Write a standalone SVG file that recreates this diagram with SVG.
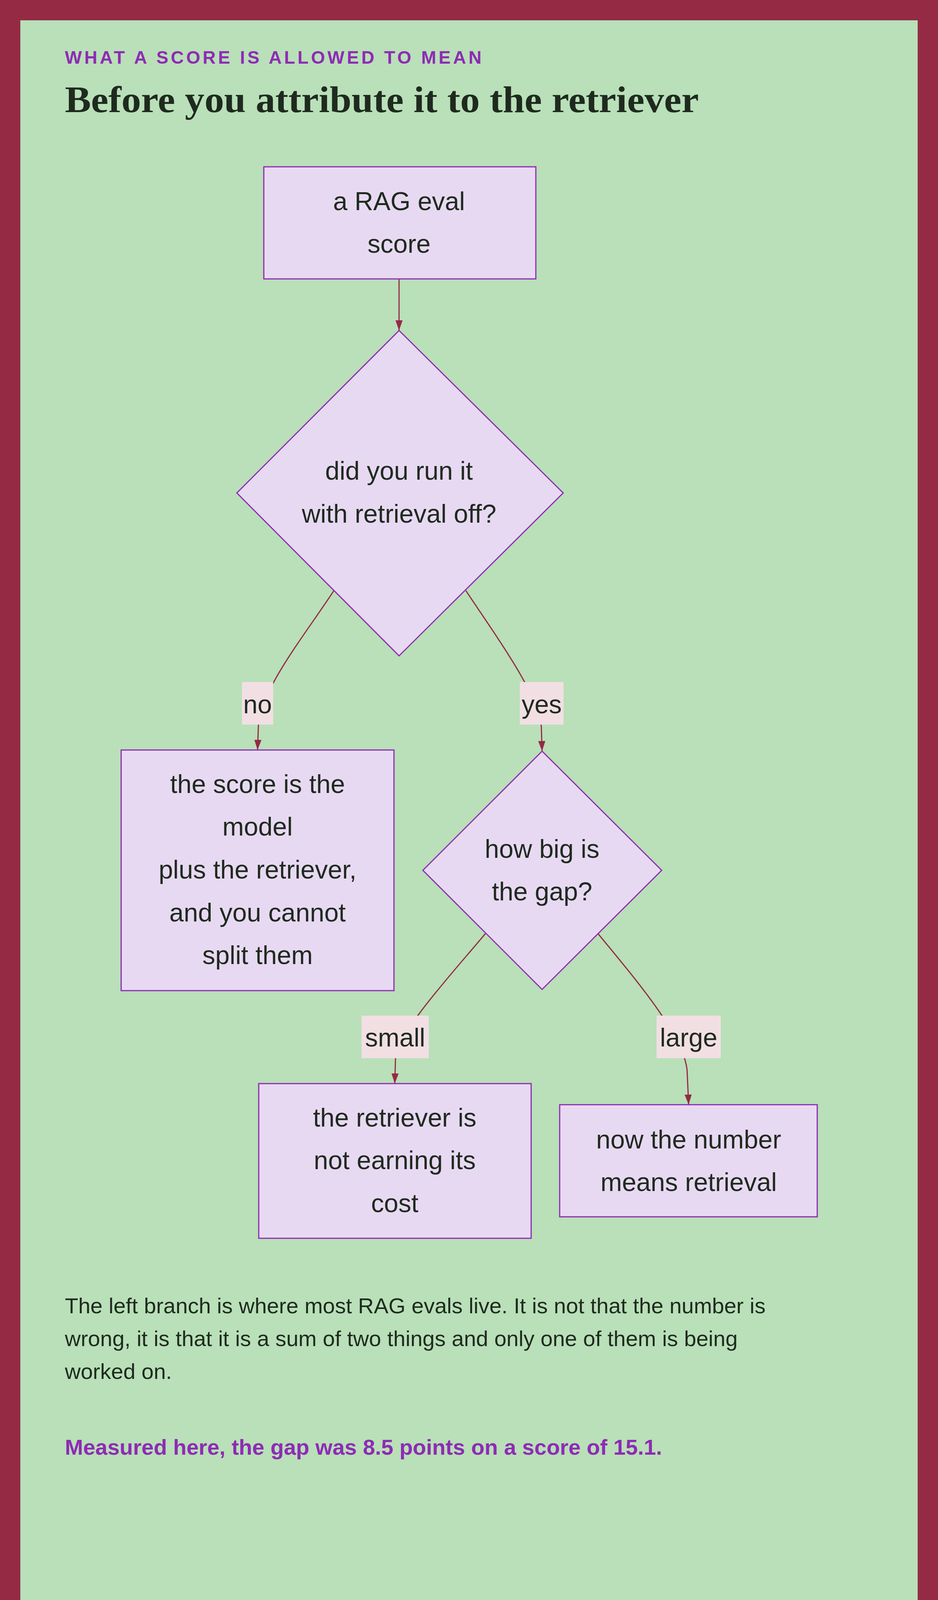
<svg xmlns="http://www.w3.org/2000/svg" width="2400" height="4280" viewBox="0 0 2400 4280">
<style>
.node{fill:#e8d9f2;stroke:#8e2bb5;stroke-width:3}
.nt{font-family:"Liberation Sans",Arial,sans-serif;font-size:66px;fill:#1f2a1f;text-anchor:middle}
.edge{fill:none;stroke:#952a45;stroke-width:3}
.lbg{fill:#f2dfe4}
.body{font-family:"Liberation Sans",Arial,sans-serif;font-size:56px;fill:#1f2a1f}
.accent{font-family:"Liberation Sans",Arial,sans-serif;font-size:56px;font-weight:bold;fill:#8e2bb5}
</style>
<defs>
<marker id="arrow" viewBox="0 0 20 20" refX="20" refY="10" markerWidth="26" markerHeight="26" markerUnits="userSpaceOnUse" orient="auto"><path d="M0,3 L20,10 L0,17 Z" fill="#952a45"/></marker>
</defs>
<rect x="0" y="0" width="2400" height="4280" fill="#952a45"/>
<rect x="52" y="52" width="2296" height="4176" fill="#b9e0b8"/>
<text x="166" y="163" font-family="Liberation Sans,Arial,sans-serif" font-weight="bold" font-size="46" letter-spacing="5" fill="#8e2bb5" textLength="1071">WHAT A SCORE IS ALLOWED TO MEAN</text>
<text x="166" y="287" font-family="Liberation Serif,Times New Roman,serif" font-weight="bold" font-size="96" fill="#1f2a1f" textLength="1622" lengthAdjust="spacingAndGlyphs">Before you attribute it to the retriever</text>

<g id="connectors">
<path class="edge" marker-end="url(#arrow)" d="M1021,714 L1021,846"/>
<path class="edge" marker-end="url(#arrow)" d="M855,1511 C770,1640 670,1760 661,1860 L659,1920"/>
<path class="edge" marker-end="url(#arrow)" d="M1192,1512 C1270,1630 1380,1780 1385,1860 L1387,1923"/>
<path class="edge" marker-end="url(#arrow)" d="M1242,2390 C1150,2500 1020,2640 1012,2709 L1010,2774"/>
<path class="edge" marker-end="url(#arrow)" d="M1530,2390 C1620,2500 1750,2650 1758,2740 L1762,2828"/>
<rect class="lbg" x="619" y="1746" width="80" height="109"/>
<text class="nt" x="659" y="1826">no</text>
<rect class="lbg" x="1330" y="1746" width="112" height="109"/>
<text class="nt" x="1386" y="1826">yes</text>
<rect class="lbg" x="925" y="2600" width="172" height="109"/>
<text class="nt" x="1011" y="2679">small</text>
<rect class="lbg" x="1680" y="2600" width="164" height="109"/>
<text class="nt" x="1762" y="2679">large</text>
</g>

<g id="n1"><rect class="node" x="675" y="427" width="696" height="287"/>
<text class="nt" x="1021" y="538">a RAG eval</text><text class="nt" x="1021" y="647">score</text></g>
<g id="n2"><polygon class="node" points="1021,846 1441,1262 1021,1679 606,1262"/>
<text class="nt" x="1021" y="1228">did you run it</text><text class="nt" x="1021" y="1338">with retrieval off?</text></g>
<g id="n3"><rect class="node" x="310" y="1920" width="698" height="616"/>
<text class="nt" x="659" y="2030">the score is the</text><text class="nt" x="659" y="2139">model</text><text class="nt" x="659" y="2249">plus the retriever,</text><text class="nt" x="659" y="2359">and you cannot</text><text class="nt" x="659" y="2468">split them</text></g>
<g id="n4"><polygon class="node" points="1387,1923 1693,2228 1387,2533 1082,2228"/>
<text class="nt" x="1387" y="2196">how big is</text><text class="nt" x="1387" y="2305">the gap?</text></g>
<g id="n5"><rect class="node" x="662" y="2774" width="697" height="396"/>
<text class="nt" x="1010" y="2884">the retriever is</text><text class="nt" x="1010" y="2993">not earning its</text><text class="nt" x="1010" y="3103">cost</text></g>
<g id="n6"><rect class="node" x="1432" y="2828" width="659" height="287"/>
<text class="nt" x="1762" y="2940">now the number</text><text class="nt" x="1762" y="3049">means retrieval</text></g>

<text class="body" x="166" y="3362">The left branch is where most RAG evals live. It is not that the number is</text>
<text class="body" x="166" y="3446">wrong, it is that it is a sum of two things and only one of them is being</text>
<text class="body" x="166" y="3530">worked on.</text>
<text class="accent" x="166" y="3724">Measured here, the gap was 8.5 points on a score of 15.1.</text>
<rect x="166" y="4135" width="26" height="26" fill="#8e2bb5"/>
<text x="212" y="4164" font-family="Liberation Sans,Arial,sans-serif" font-weight="bold" font-size="44" letter-spacing="6" fill="#8e2bb5">SYSTEMDESIGN.ACADEMY</text>
</svg>
